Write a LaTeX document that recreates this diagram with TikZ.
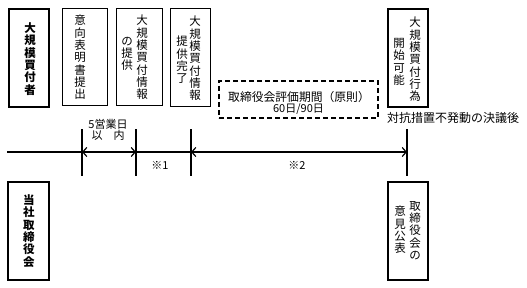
\documentclass[tikz,border=0pt]{standalone}
\usepackage{fontspec}
\newfontfamily\jp{Noto Sans CJK JP}
\usetikzlibrary{arrows.meta}
\begin{document}
\begin{tikzpicture}[x=1pt,y=-1pt,
  box/.style={draw, line width=1pt, inner sep=0pt},
  thickbox/.style={draw, line width=1.8pt, inner sep=0pt},
  vtext/.style={inner sep=0pt, align=center, font=\jp\fontsize{11.5}{12.3}\selectfont},
  htext/.style={inner sep=0pt, align=center, font=\jp\fontsize{11.5}{12}\selectfont},
  small/.style={inner sep=0pt, align=center, font=\jp\fontsize{11}{11}\selectfont},
  tick/.style={line width=1.2pt},
  arr/.style={line width=1.2pt, {Straight Barb[length=4pt,width=9pt]}-{Straight Barb[length=4pt,width=9pt]}}
]
\useasboundingbox (0,0) rectangle (527,288);

% top boxes
\node[thickbox, minimum width=40pt, minimum height=98pt] (b1) at (29,58) {};
\node[box, minimum width=45pt, minimum height=97pt] (b2) at (84.5,57.5) {};
\node[box, minimum width=46pt, minimum height=97pt] (b3) at (139,57.5) {};
\node[box, minimum width=40pt, minimum height=98pt] (b4) at (190,58) {};
\node[box, line width=1.3pt, minimum width=40pt, minimum height=98pt] (b5) at (408,58) {};

\node[vtext, font=\jp\bfseries\fontsize{11.5}{12.3}\selectfont] (t1) at (30,59) {大\\規\\模\\買\\付\\者};
\node[vtext] (t2) at (80,57.5) {意\\向\\表\\明\\書\\提\\出};
\node[vtext] (t3a) at (142,57.5) {大\\規\\模\\買\\付\\情\\報};
\node[vtext] (t3b) at (127,54) {の\\提\\供};
\node[vtext] (t4a) at (195,58.5) {大\\規\\模\\買\\付\\情\\報};
\node[vtext] (t4b) at (182,60) {提\\供\\完\\了};
\node[vtext] (t5a) at (415,59.5) {大\\規\\模\\買\\付\\行\\為};
\node[vtext] (t5b) at (399,62) {開\\始\\可\\能};

% dashed box
\node[draw, dashed, line width=1.4pt, dash pattern=on 5pt off 3pt, minimum width=159pt, minimum height=37pt, inner sep=0pt] (db) at (298.5,99.5) {};
\node[htext, font=\jp\fontsize{11.8}{12}\selectfont] (dbt1) at (299,97) {取締役会評価期間（原則）};
\node[small] (dbt2) at (298.5,109) {60日/90日};

\node[htext, anchor=west, font=\jp\fontsize{12}{12}\selectfont] (cond) at (387,118) {対抗措置不発動の決議後};

% timeline
\coordinate (s) at (7,152);
\coordinate (p1) at (82,152);
\coordinate (p2) at (136,152);
\coordinate (p3) at (191,152);
\coordinate (p4) at (407,152);
\foreach \p in {p1,p2,p3,p4} {
  \draw[tick] ([yshift=-24pt]\p) -- ([yshift=23pt]\p);
}
\draw[line width=1.2pt] (s) -- (p4);
\draw[arr] (p1) -- (p2);
\draw[arr] (p3) -- (p4);

\node[small] (l5a) at (108,124) {5営業日};
\node[small] (l5b) at (108,135.5) {以　内};
\node[small] (n1) at (160,165) {※1};
\node[small] (n2) at (297,165) {※2};

% bottom boxes
\node[thickbox, minimum width=41pt, minimum height=98pt] (b6) at (28.5,231) {};
\node[vtext, font=\jp\bfseries\fontsize{11.5}{12.3}\selectfont] (t6) at (29,231) {当\\社\\取\\締\\役\\会};
\node[box, line width=1.3pt, minimum width=40pt, minimum height=98pt] (b7) at (408,231) {};
\node[vtext] (t7a) at (415,230.5) {取\\締\\役\\会\\の};
\node[vtext] (t7b) at (400,230) {意\\見\\公\\表};
\end{tikzpicture}
\end{document}
